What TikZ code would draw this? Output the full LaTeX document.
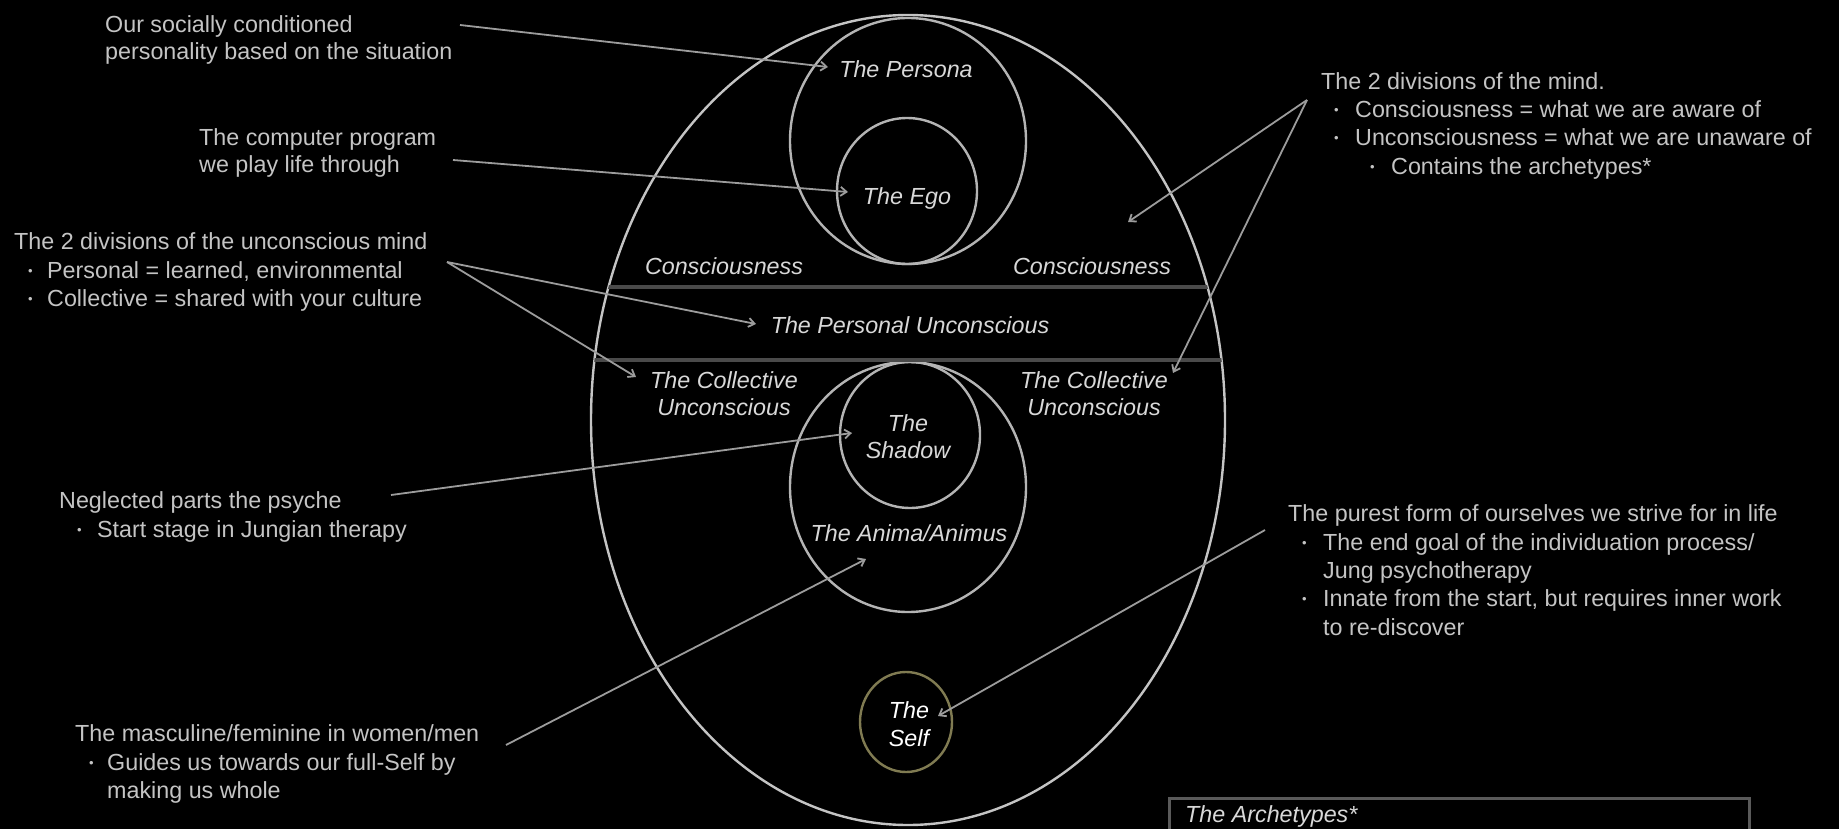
\documentclass[tikz,border=0pt]{standalone}
\usepackage{fontspec}
\setmainfont{Liberation Sans}
\usetikzlibrary{shapes.geometric,arrows.meta}
\definecolor{txt}{HTML}{C4C4C4}
\definecolor{lbl}{HTML}{D8D8D8}
\definecolor{ln}{HTML}{B4B4B4}
\definecolor{outerc}{HTML}{C4C4C4}
\definecolor{arrc}{HTML}{9C9C9C}
\definecolor{sepc}{HTML}{4A4A4A}
\definecolor{selfc}{HTML}{807B52}
\definecolor{boxc}{HTML}{5A5A5A}
\begin{document}
\begin{tikzpicture}[x=1pt,y=-1pt,
  ann/.style={anchor=base west,inner sep=0,text=txt,font=\fontsize{23.3}{28}\selectfont},
  lab/.style={anchor=base,inner sep=0,text=lbl,font=\fontsize{23.3}{27}\selectfont\itshape},
  bul/.style={anchor=base west,inner sep=0,text=txt,font=\fontsize{13}{13}\selectfont},
  ell/.style={draw=ln,line width=2.4pt,ellipse,inner sep=0},
  arr/.style={draw=arrc,line width=1.8pt,-{Straight Barb[length=6pt,width=9pt]}}
]
\useasboundingbox (0,0) rectangle (1839,829);
\fill[black] (0,0) rectangle (1839,829);
\clip (0,0) rectangle (1839,829);

% ellipses
\node[ell,draw=outerc,minimum width=634,minimum height=810] (outer) at (908,420) {};
\node[ell,minimum width=236,minimum height=246] (persona) at (908,141) {};
\node[ell,minimum width=140,minimum height=146] (ego) at (907,191) {};
\node[ell,minimum width=236,minimum height=250] (anima) at (908,487) {};
\node[ell,minimum width=140,minimum height=146] (shadow) at (910,435) {};
\node[ell,draw=selfc,minimum width=92,minimum height=100] (self) at (906,722) {};

% separator lines
\begin{scope}
  \clip (908,420) ellipse [x radius=317, y radius=405];
  \draw[sepc,line width=4pt] (560,287) -- (1260,287);
  \draw[sepc,line width=4pt] (560,360) -- (1260,360);
\end{scope}

% labels inside
\node[lab] (lPers) at (906,78) {The Persona};
\node[lab] (lEgo) at (907,205) {The Ego};
\node[lab] (lConsL) at (724,274) {Consciousness};
\node[lab] (lConsR) at (1092,274) {Consciousness};
\node[lab] (lPU) at (910,333) {The Personal Unconscious};
\node[lab] (lCollL1) at (724,388) {The Collective};
\node[lab] (lCollL2) at (724,415) {Unconscious};
\node[lab] (lCollR1) at (1094,388) {The Collective};
\node[lab] (lCollR2) at (1094,415) {Unconscious};
\node[lab] (lShad1) at (908,431) {The};
\node[lab] (lShad2) at (908,458) {Shadow};
\node[lab] (lAnima) at (909,541) {The Anima/Animus};
\node[lab,text=white] (lSelf1) at (909,718) {The};
\node[lab,text=white] (lSelf2) at (909,746) {Self};

% left annotations
\node[ann] (a1) at (105,33) {Our socially conditioned};
\node[ann] (a2) at (105,60) {personality based on the situation};
\node[ann] (b1) at (199,146) {The computer program};
\node[ann] (b2) at (199,173) {we play life through};
\node[ann] (c1) at (14,250) {The 2 divisions of the unconscious mind};
\node[bul] (c2b) at (28,275) {•};
\node[ann] (c2) at (47,278) {Personal = learned, environmental};
\node[bul] (c3b) at (28,303) {•};
\node[ann] (c3) at (47,306) {Collective = shared with your culture};
\node[ann] (d1) at (59,508) {Neglected parts the psyche};
\node[bul] (d2b) at (77,534) {•};
\node[ann] (d2) at (97,537) {Start stage in Jungian therapy};
\node[ann] (e1) at (75,741) {The masculine/feminine in women/men};
\node[bul] (e2b) at (89,767) {•};
\node[ann] (e2) at (107,770) {Guides us towards our full-Self by};
\node[ann] (e3) at (107,798) {making us whole};

% right annotations
\node[ann] (f1) at (1321,90) {The 2 divisions of the mind.};
\node[bul] (f2b) at (1334,115) {•};
\node[ann] (f2) at (1355,118) {Consciousness = what we are aware of};
\node[bul] (f3b) at (1334,143) {•};
\node[ann] (f3) at (1355,146) {Unconsciousness = what we are unaware of};
\node[bul] (f4b) at (1370,172) {•};
\node[ann] (f4) at (1391,175) {Contains the archetypes*};
\node[ann] (g1) at (1288,521) {The purest form of ourselves we strive for in life};
\node[bul] (g2b) at (1302,547) {•};
\node[ann] (g2) at (1323,550) {The end goal of the individuation process/};
\node[ann] (g3) at (1323,578) {Jung psychotherapy};
\node[bul] (g4b) at (1302,603) {•};
\node[ann] (g4) at (1323,606) {Innate from the start, but requires inner work};
\node[ann] (g5) at (1323,635) {to re-discover};

% archetypes box
\node[draw=boxc,line width=3pt,anchor=north west,inner sep=0,minimum width=580,minimum height=120] (box) at (1168,797) {};
\node[lab,anchor=base west] (boxt) at (1185,822) {The Archetypes*};

% arrow end points
\coordinate (sA) at (460,25);   \coordinate (tA) at (828,67);
\coordinate (sB) at (453,160);  \coordinate (tB) at (848,192);
\coordinate (sC) at (447,262);  \coordinate (tC) at (756,324);
\coordinate (tD) at (636,377);
\coordinate (sE) at (391,495);  \coordinate (tE) at (852,433);
\coordinate (sF) at (506,745);  \coordinate (tF) at (866,559);
\coordinate (sG) at (1265,530); \coordinate (tG) at (938,716);
\coordinate (sH) at (1307,100); \coordinate (tH) at (1128,222);
\coordinate (tI) at (1173,373);

\draw[arr] (sA) -- (tA);
\draw[arr] (sB) -- (tB);
\draw[arr] (sC) -- (tC);
\draw[arr] (sC) -- (tD);
\draw[arr] (sE) -- (tE);
\draw[arr] (sF) -- (tF);
\draw[arr] (sG) -- (tG);
\draw[arr] (sH) -- (tH);
\draw[arr] (sH) -- (tI);
\end{tikzpicture}
\end{document}
